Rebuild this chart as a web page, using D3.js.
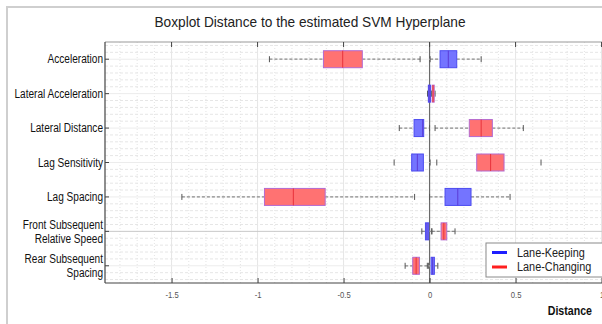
<!DOCTYPE html>
<html>
<head>
    <meta charset="utf-8" />
    <script src="https://cdn.jsdelivr.net/npm/d3@7/dist/d3.min.js"></script>
    <style>
        body { margin: 0; background: #fff; }
        text { font-family: "Liberation Sans", Arial, sans-serif; }
    </style>
</head>
<body>
    <script>
        // categories, top to bottom
        var categories = ["Acceleration", "Lateral Acceleration", "Lateral Distance", "Lag Sensitivity",
            "Lag Spacing", "Front Subsequent\nRelative Speed", "Rear Subsequent\nSpacing"];

        // [lower whisker, q1, median, q3, upper whisker]
        var keepStats = [
            [0.003, 0.061, 0.109, 0.158, 0.30],
            [-0.012, -0.007, -0.002, 0.005, 0.008],
            [-0.176, -0.09, -0.04, -0.034, 0.0],
            [-0.206, -0.104, -0.071, -0.036, 0.003],
            [0.0, 0.09, 0.164, 0.241, 0.468],
            [-0.045, -0.024, -0.015, -0.005, 0.013],
            [-0.013, 0.009, 0.018, 0.028, 0.048]
        ];
        var changeStats = [
            [-0.931, -0.617, -0.505, -0.391, -0.055],
            [0.010, 0.015, 0.02, 0.027, 0.032],
            [0.032, 0.231, 0.30, 0.365, 0.545],
            [0.042, 0.274, 0.355, 0.433, 0.648],
            [-1.44, -0.96, -0.792, -0.607, -0.087],
            [0.013, 0.067, 0.083, 0.10, 0.148],
            [-0.142, -0.098, -0.078, -0.059, -0.007]
        ];
        // the Lag Sensitivity row shows only the caps
        var whiskerLines = [true, true, true, false, true, true, true];

        var xTicks = [-1.5, -1, -0.5, 0, 0.5, 1];
        var xDomain = [-1.887, 1.05];
        var seriesNames = ["Lane-Keeping", "Lane-Changing"];

        var width = 602,
            height = 324,
            plotLeft = 105,
            plotTop = 42,
            plotBottom = 283;

        var x = d3.scaleLinear().domain(xDomain).range([plotLeft, plotLeft + (xDomain[1] - xDomain[0]) * 172]);
        var plotRight = x.range()[1];
        var y = d3.scalePoint().domain(d3.range(categories.length)).range([plotTop, plotBottom]).padding(0.5);
        var step = y.step();

        // the original font is a narrow one; squeeze the glyphs instead
        function condense(sel, f) {
            sel.each(function () {
                var w = this.getComputedTextLength();
                d3.select(this).attr("textLength", w * f).attr("lengthAdjust", "spacingAndGlyphs");
            });
        }

        var svg = d3.select("body").append("svg")
            .attr("width", width)
            .attr("height", height);

        // figure frame
        svg.append("rect")
            .attr("x", 7).attr("y", 7)
            .attr("width", width + 10).attr("height", height + 10)
            .attr("fill", "#fff").attr("stroke", "#cfcfcf").attr("stroke-width", 2);

        svg.append("text")
            .attr("x", 310).attr("y", 27)
            .attr("text-anchor", "middle")
            .attr("font-size", 15)
            .attr("fill", "#222")
            .attr("textLength", 311).attr("lengthAdjust", "spacingAndGlyphs")
            .text("Boxplot Distance to the estimated SVM Hyperplane");

        var grid = svg.append("g");

        // minor grid
        grid.selectAll(".vminor")
            .data(d3.range(-18, 11).map(function (d) { return d / 10; }))
            .enter().append("line")
            .attr("x1", function (d) { return x(d); })
            .attr("x2", function (d) { return x(d); })
            .attr("y1", plotTop).attr("y2", plotBottom)
            .attr("stroke", "#e4e4e4").attr("stroke-dasharray", "1,2");

        var hminor = [];
        categories.forEach(function (c, i) {
            for (var k = -2; k <= 2; k++) if (k != 0) hminor.push(y(i) + k * step * 0.2);
        });
        grid.selectAll(".hminor")
            .data(hminor)
            .enter().append("line")
            .attr("x1", plotLeft).attr("x2", plotRight)
            .attr("y1", function (d) { return d; })
            .attr("y2", function (d) { return d; })
            .attr("stroke", "#e6e6e6").attr("stroke-dasharray", "3,2");

        // major grid
        grid.selectAll(".vmajor")
            .data(xTicks)
            .enter().append("line")
            .attr("x1", function (d) { return x(d); })
            .attr("x2", function (d) { return x(d); })
            .attr("y1", plotTop).attr("y2", plotBottom)
            .attr("stroke", function (d) { return d == 0 ? "#6a6a6a" : "#e6e6e6"; })
            .attr("stroke-width", function (d) { return d == 0 ? 1.2 : 1; });

        grid.selectAll(".hmajor")
            .data(categories)
            .enter().append("line")
            .attr("x1", plotLeft).attr("x2", plotRight)
            .attr("y1", function (d, i) { return y(i); })
            .attr("y2", function (d, i) { return y(i); })
            .attr("stroke", function (d, i) { return i == 5 ? "#c8c8c8" : "#ececec"; });

        // boxes
        var boxH = 17, capH = 6;
        var styles = [
            { fill: "#7474ff", stroke: "#4b4bf0", median: "#5a3bd6" },
            { fill: "#ff7272", stroke: "#b36ad0", median: "#e8323c" }
        ];

        function drawBoxes(stats, st) {
            var g = svg.append("g");
            var row = g.selectAll("g")
                .data(stats)
                .enter().append("g")
                .attr("transform", function (d, i) { return "translate(0," + y(i) + ")"; });

            row.filter(function (d, i) { return whiskerLines[i]; })
                .append("line")
                .attr("x1", function (d) { return x(d[0]); })
                .attr("x2", function (d) { return x(d[1]); })
                .attr("stroke", "#8a8a8a").attr("stroke-width", 1.2).attr("stroke-dasharray", "3,2");
            row.filter(function (d, i) { return whiskerLines[i]; })
                .append("line")
                .attr("x1", function (d) { return x(d[3]); })
                .attr("x2", function (d) { return x(d[4]); })
                .attr("stroke", "#8a8a8a").attr("stroke-width", 1.2).attr("stroke-dasharray", "3,2");

            [0, 4].forEach(function (k) {
                row.append("line")
                    .attr("x1", function (d) { return x(d[k]); })
                    .attr("x2", function (d) { return x(d[k]); })
                    .attr("y1", -capH / 2).attr("y2", capH / 2)
                    .attr("stroke", "#555").attr("stroke-width", 1);
            });

            row.append("rect")
                .attr("x", function (d) { return x(d[1]); })
                .attr("y", -boxH / 2)
                .attr("width", function (d) { return Math.max(1.5, x(d[3]) - x(d[1])); })
                .attr("height", boxH)
                .attr("fill", st.fill).attr("stroke", st.stroke).attr("stroke-width", 1);

            row.append("line")
                .attr("x1", function (d) { return x(d[2]); })
                .attr("x2", function (d) { return x(d[2]); })
                .attr("y1", -boxH / 2).attr("y2", boxH / 2)
                .attr("stroke", st.median).attr("stroke-width", 1);
        }
        drawBoxes(changeStats, styles[1]);
        drawBoxes(keepStats, styles[0]);

        // axes frame and ticks
        var axisColor = "#444";
        svg.append("line").attr("x1", plotLeft).attr("x2", plotRight).attr("y1", plotTop).attr("y2", plotTop)
            .attr("stroke", "#999");
        svg.append("line").attr("x1", plotLeft).attr("x2", plotRight).attr("y1", plotBottom).attr("y2", plotBottom)
            .attr("stroke", axisColor).attr("stroke-width", 1.2);
        svg.append("line").attr("x1", plotLeft).attr("x2", plotLeft).attr("y1", plotTop).attr("y2", plotBottom)
            .attr("stroke", axisColor).attr("stroke-width", 1.2);

        var xAxis = svg.append("g")
            .attr("transform", "translate(0," + plotBottom + ")")
            .call(d3.axisBottom(x).tickValues(xTicks).tickSizeInner(-5).tickSizeOuter(0).tickPadding(9)
                .tickFormat(function (d) { return String(d); }));
        xAxis.select(".domain").remove();
        xAxis.selectAll(".tick line").attr("stroke", axisColor);
        xAxis.selectAll("text").attr("font-size", 9).attr("fill", "#555")
            .style("font-family", "'Liberation Sans', Arial, sans-serif");
        condense(xAxis.selectAll("text"), 0.85);

        svg.selectAll(".topTick")
            .data(xTicks)
            .enter().append("line")
            .attr("x1", function (d) { return x(d); })
            .attr("x2", function (d) { return x(d); })
            .attr("y1", plotTop).attr("y2", plotTop + 5)
            .attr("stroke", axisColor);

        svg.selectAll(".yTick")
            .data(categories)
            .enter().append("line")
            .attr("x1", plotLeft).attr("x2", plotLeft + 4)
            .attr("y1", function (d, i) { return y(i); })
            .attr("y2", function (d, i) { return y(i); })
            .attr("stroke", axisColor);

        var yLabels = svg.selectAll(".ylab")
            .data(categories)
            .enter().append("text")
            .attr("x", plotLeft - 2)
            .attr("text-anchor", "end")
            .attr("font-size", 12)
            .attr("fill", "#111");
        yLabels.each(function (d, i) {
            var lines = d.split("\n");
            var t = d3.select(this);
            lines.forEach(function (s, j) {
                t.append("tspan")
                    .attr("x", plotLeft - 2)
                    .attr("y", y(i) + (j - (lines.length - 1) / 2) * 14)
                    .attr("dy", "0.35em")
                    .text(s);
            });
        });
        condense(yLabels.selectAll("tspan"), 0.84);

        var xTitle = svg.append("text")
            .attr("x", 592).attr("y", 315)
            .attr("text-anchor", "end")
            .attr("font-size", 12.5)
            .attr("font-weight", "bold")
            .attr("fill", "#111")
            .text("Distance");
        condense(xTitle, 0.85);

        // legend
        var legend = svg.append("g").attr("transform", "translate(486,243)");
        legend.append("rect")
            .attr("width", 130).attr("height", 34)
            .attr("fill", "#fff").attr("stroke", "#8a8a8a");
        var legendColors = ["#1f1fff", "#ff1f1f"];
        seriesNames.forEach(function (s, i) {
            legend.append("line")
                .attr("x1", 6).attr("x2", 21)
                .attr("y1", 9.5 + i * 14.5).attr("y2", 9.5 + i * 14.5)
                .attr("stroke", legendColors[i]).attr("stroke-width", 3);
            var lt = legend.append("text")
                .attr("x", 31).attr("y", 9.5 + i * 14.5)
                .attr("dy", "0.35em")
                .attr("font-size", 12.5)
                .attr("fill", "#222")
                .text(s);
            condense(lt, 0.87);
        });
    </script>
</body>
</html>
